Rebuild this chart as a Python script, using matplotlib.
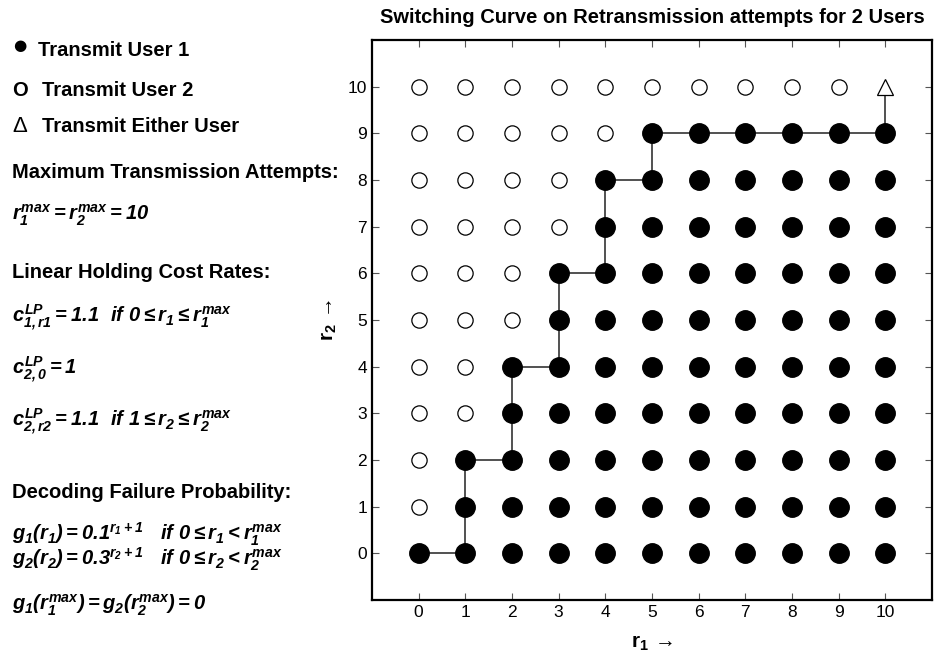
import matplotlib
matplotlib.use("Agg")
import matplotlib.pyplot as plt

plt.rcParams['font.family'] = ['Liberation Sans', 'DejaVu Sans']
plt.rcParams['mathtext.fontset'] = 'custom'
plt.rcParams['mathtext.rm'] = 'Liberation Sans:bold:italic'
plt.rcParams['mathtext.it'] = 'Liberation Sans:bold:italic'
plt.rcParams['mathtext.bf'] = 'Liberation Sans:bold'

# retransmission attempt counts for each user
r_max = 10
r1_vals = list(range(r_max + 1))
r2_vals = list(range(r_max + 1))

# first r1 at which user 1 is scheduled, for each r2 (last row: r1 of the "either" state)
switch_r1 = [0, 1, 1, 2, 2, 3, 3, 4, 4, 5, 10]

# policy grid
user1_pts, user2_pts, either_pts = [], [], []
for r2 in r2_vals:
    for r1 in r1_vals:
        if r2 == r_max:
            if r1 == switch_r1[r2]:
                either_pts.append((r1, r2))
            else:
                user2_pts.append((r1, r2))
        elif r1 >= switch_r1[r2]:
            user1_pts.append((r1, r2))
        else:
            user2_pts.append((r1, r2))

# switching curve as a staircase through the threshold points
curve_x, curve_y = [switch_r1[0]], [0]
for r2 in range(r_max):
    curve_x += [switch_r1[r2 + 1], switch_r1[r2 + 1]]
    curve_y += [r2, r2 + 1]

fig = plt.figure(figsize=(9.36, 6.64), dpi=100)
ax = fig.add_axes([372 / 936, 64 / 664, 560 / 936, 560 / 664])

ax.plot(curve_x, curve_y, color='#333333', lw=1.2, zorder=1)
ax.plot(*zip(*user2_pts), 'o', ms=11, mfc='white', mec='black', mew=0.9, zorder=2)
ax.plot(*zip(*user1_pts), 'o', ms=14, mfc='black', mec='black', zorder=3)
ax.plot(*zip(*either_pts), '^', ms=12, mfc='white', mec='black', mew=0.9, zorder=3)

ax.set_xlim(-1, 11)
ax.set_ylim(-1, 11)
ax.set_xticks(r1_vals)
ax.set_yticks(r2_vals)
ax.tick_params(direction='in', length=5, width=0.8, color='#555555',
               top=True, right=True, labelsize=12.5)
for s in ax.spines.values():
    s.set_linewidth(1.6)

ax.set_title('Switching Curve on Retransmission attempts for 2 Users',
             fontsize=14.5, fontweight='bold', pad=12)
ax.set_xlabel(r'$\mathbf{r}_\mathbf{1}\,\rightarrow$', fontsize=15, labelpad=10)
ax.set_ylabel(r'$\mathbf{r}_\mathbf{2}\,\rightarrow$', fontsize=15, labelpad=6)

# legend and model parameters on the left
fs = 14.5
def put(x, y, s, **kw):
    fig.text(x, 664 - y, s, va='center', transform=None, **kw)

put(13, 46, '\u25cf', fontsize=11, family='DejaVu Sans')
put(38, 50, 'Transmit User 1', fontsize=fs, fontweight='bold')
put(12, 91, 'O', fontsize=fs, fontweight='bold')
put(42, 91, 'Transmit User 2', fontsize=fs, fontweight='bold')
put(12, 127, '\u0394', fontsize=16)
put(42, 127, 'Transmit Either User', fontsize=fs, fontweight='bold')

put(12, 172, 'Maximum Transmission Attempts:', fontsize=fs, fontweight='bold')
put(12, 215, r'$r_1^{max} = r_2^{max} = 10$', fontsize=fs)

put(12, 272, 'Linear Holding Cost Rates:', fontsize=fs, fontweight='bold')
put(12, 318, r'$c_{1,r1}^{LP}=1.1\ \ if\ 0\leq r_1\leq r_1^{max}$', fontsize=fs)
put(12, 370, r'$c_{2,0}^{LP}=1$', fontsize=fs)
put(12, 422, r'$c_{2,r2}^{LP}=1.1\ \ if\ 1\leq r_2\leq r_2^{max}$', fontsize=fs)

put(12, 493, 'Decoding Failure Probability:', fontsize=fs, fontweight='bold')
put(12, 534, r'$g_1(r_1) = 0.1^{r_1+1}\quad if\ 0\leq r_1 < r_1^{max}$', fontsize=fs)
put(12, 559, r'$g_2(r_2) = 0.3^{r_2+1}\quad if\ 0\leq r_2 < r_2^{max}$', fontsize=fs)
put(12, 605, r'$g_1(r_1^{max}) = g_2(r_2^{max}) = 0$', fontsize=fs)

fig.savefig('out.png', dpi=100)
